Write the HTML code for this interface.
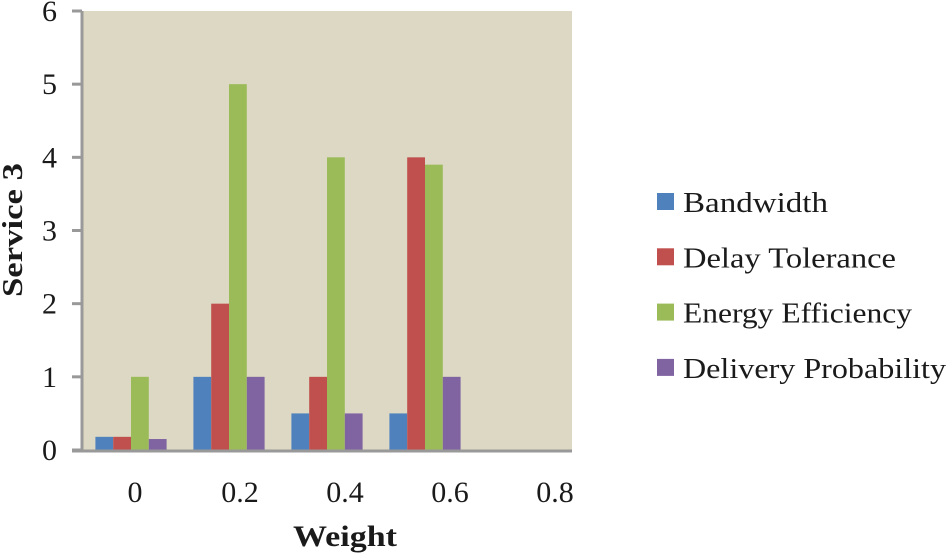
<!DOCTYPE html>
<html><head><meta charset="utf-8"><style>
body{margin:0;background:#fff;}
svg text{font-family:"Liberation Serif",serif;fill:#1a1a1a;}
</style></head><body>
<svg width="950" height="553" viewBox="0 0 950 553">
<rect x="82" y="11" width="490" height="439" fill="#ddd8c3"/>
<g id="bars"></g>
<line x1="82" y1="11" x2="82" y2="451" stroke="#999" stroke-width="3"/>
<line x1="72" y1="451" x2="572" y2="451" stroke="#999" stroke-width="3"/>
<g id="yticks"></g>
<g id="xticks"></g>
<text x="345" y="546" text-anchor="middle" font-size="30" font-weight="bold" textLength="104" lengthAdjust="spacingAndGlyphs">Weight</text>
<text transform="translate(22,230) rotate(-90)" text-anchor="middle" font-size="28" font-weight="bold" textLength="134" lengthAdjust="spacingAndGlyphs">Service 3</text>
<g id="legend"></g>
</svg>
<script>
const categories = ["0","0.2","0.4","0.6","0.8"];
const seriesNames = ["Bandwidth","Delay Tolerance","Energy Efficiency","Delivery Probability"];
const bandwidth = [0.18,1,0.5,0.5,0];
const delayTolerance = [0.18,2,1,4,0];
const energyEfficiency = [1,5,4,3.9,0];
const deliveryProbability = [0.15,1,0.5,1,0];
const yTicks = [0,1,2,3,4,5,6];
const colors = ["#4f81bd","#c0504d","#9bbb59","#8064a2"];
const series = [bandwidth, delayTolerance, energyEfficiency, deliveryProbability];
const legendWidths = [145,213,229,263];
const NS="http://www.w3.org/2000/svg";
const L=82,R=572,T=11,B=450,yMax=6;
const y=v=>B-(v/yMax)*(B-T);
const bandW=(R-L)/categories.length;
const xc=i=>L+bandW*(i+0.5);
const xl=i=>135+105*i;
const bw=17.8;
const bars=document.getElementById('bars');
series.forEach((s,si)=>{
  s.forEach((v,i)=>{
    if(v<=0) return;
    const r=document.createElementNS(NS,'rect');
    r.setAttribute('x',xc(i)-2*bw+si*bw);
    r.setAttribute('y',y(v));
    r.setAttribute('width',bw);
    r.setAttribute('height',B-y(v));
    r.setAttribute('fill',colors[si]);
    
    
    bars.appendChild(r);
  });
});
const yt=document.getElementById('yticks');
yTicks.forEach(t=>{
  const l=document.createElementNS(NS,'line');
  l.setAttribute('x1',72);l.setAttribute('x2',82);
  l.setAttribute('y1',y(t));l.setAttribute('y2',y(t));
  l.setAttribute('stroke','#999');l.setAttribute('stroke-width','3');
  
  
  yt.appendChild(l);
  const tx=document.createElementNS(NS,'text');
  tx.setAttribute('x',57);tx.setAttribute('y',y(t)+10);
  tx.setAttribute('text-anchor','end');tx.setAttribute('font-size','30');
  tx.textContent=t;
  
  
  yt.appendChild(tx);
});
const xt=document.getElementById('xticks');
categories.forEach((c,i)=>{
  const tx=document.createElementNS(NS,'text');
  tx.setAttribute('x',xl(i));tx.setAttribute('y',502);
  tx.setAttribute('text-anchor','middle');tx.setAttribute('font-size','30');
  tx.textContent=c;
  
  
  xt.appendChild(tx);
});
const lg=document.getElementById('legend');
seriesNames.forEach((n,i)=>{
  const yy=193+i*55.3;
  const r=document.createElementNS(NS,'rect');
  r.setAttribute('x',657);r.setAttribute('y',yy);
  r.setAttribute('width',17);r.setAttribute('height',17);
  r.setAttribute('fill',colors[i]);
  
  
  lg.appendChild(r);
  const tx=document.createElementNS(NS,'text');
  tx.setAttribute('x',683);tx.setAttribute('y',yy+19);
  tx.setAttribute('font-size','29');
  tx.setAttribute('textLength',legendWidths[i]);
  tx.setAttribute('lengthAdjust','spacingAndGlyphs');
  tx.textContent=n;
  
  
  lg.appendChild(tx);
});
</script>
</body></html>
